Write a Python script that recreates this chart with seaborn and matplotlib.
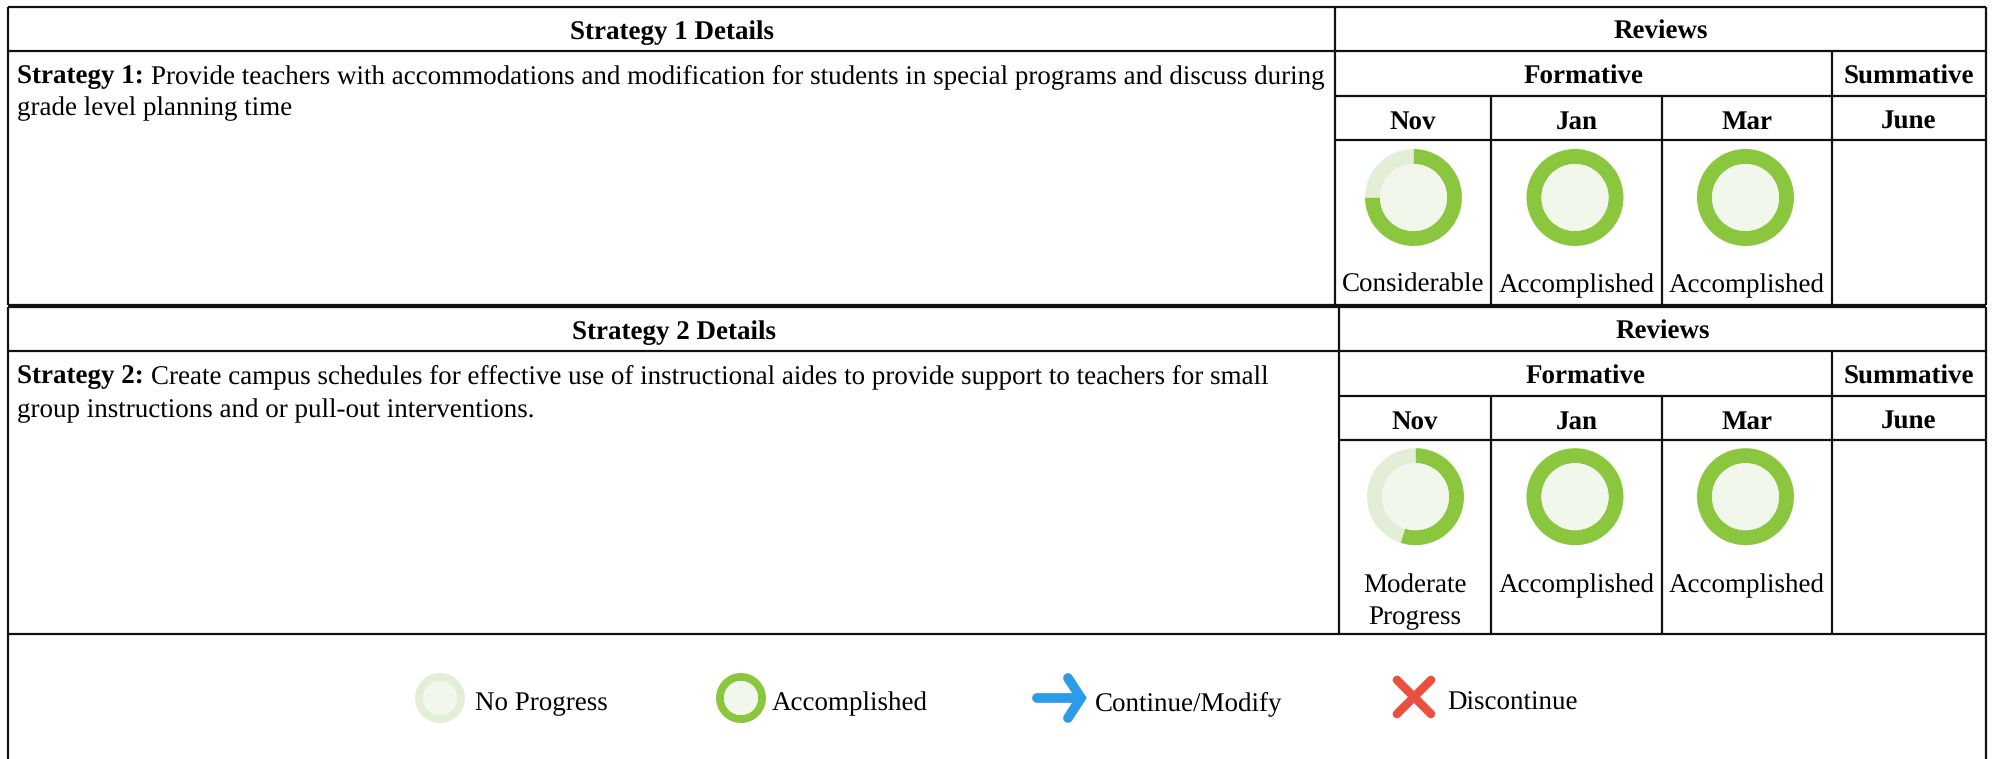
import matplotlib
matplotlib.use('Agg')
import matplotlib.pyplot as plt
import seaborn as sns

# data
months = ['Nov', 'Jan', 'Mar', 'June']
strategy1_progress = [0.75, 1.0, 1.0]
strategy2_progress = [0.55, 1.0, 1.0]
strategy1_status = ['Considerable', 'Accomplished', 'Accomplished']
strategy2_status = ['Moderate\nProgress', 'Accomplished', 'Accomplished']
strategy1_lines = ['Provide teachers with accommodations and modification for students in special programs and discuss during',
                   'grade level planning time']
strategy2_lines = ['Create campus schedules for effective use of instructional aides to provide support to teachers for small',
                   'group instructions and or pull-out interventions.']
legend_labels = ['No Progress', 'Accomplished', 'Continue/Modify', 'Discontinue']

GREEN = '#8AC73E'
PALE = '#E2EFD6'
INNER = '#F1F7EA'
BLUE = '#2D9CE8'
RED = '#EA5040'

sns.set_theme(style='white')
plt.rcParams['font.family'] = ['Liberation Serif', 'DejaVu Serif']
plt.rcParams['text.hinting'] = 'no_hinting'

W, H = 1995, 759
RIGHT = 1986
COLS = [1491, 1662, 1832]
fig = plt.figure(figsize=(W / 100, H / 100), dpi=100)
ax = fig.add_axes([0, 0, 1, 1])
ax.set_xlim(0, W)
ax.set_ylim(H, 0)
FS = 19.45
LW = 1.6


def donut(cx, cy, r, inner, frac):
    # y axis is inverted, so counterclock here comes out clockwise on screen
    ax.pie([frac, 1 - frac], colors=[GREEN, PALE], center=(cx, cy), radius=r,
           startangle=270, counterclock=True, frame=True,
           wedgeprops={'width': r - inner, 'linewidth': 0})
    ax.pie([1], colors=[INNER], center=(cx, cy), radius=inner, frame=True,
           wedgeprops={'linewidth': 0})


def hline(y, x0, x1, lw=LW):
    ax.plot([x0, x1], [y, y], color='#111111', lw=lw, solid_capstyle='butt')


def vline(x, y0, y1, lw=LW):
    ax.plot([x, x], [y0, y1], color='#111111', lw=lw, solid_capstyle='butt')


def bold(x, y, s):
    ax.text(x, y, s, ha='center', va='baseline', fontsize=FS, fontweight='bold', color='black')


def block(top, bottom, split, num, lines, progress, status, nov_x, circle_y, text_y, line2_y):
    r1, r2, r3 = top + 44, top + 89, top + 133
    for y in [top, r1]:
        hline(y, 8, RIGHT)
    hline(r2, split, RIGHT)
    hline(r3, split, RIGHT)
    hline(bottom, 8, RIGHT)
    vline(8, top, bottom)
    vline(RIGHT, top, bottom)
    vline(split, top, bottom)
    vline(COLS[0], r2, bottom)
    vline(COLS[1], r2, bottom)
    vline(COLS[2], r1, bottom)

    bold((8 + split) / 2, top + 32, f'Strategy {num} Details')
    bold((split + RIGHT) / 2, top + 32, 'Reviews')
    bold((split + COLS[2]) / 2, top + 77, 'Formative')
    bold((COLS[2] + RIGHT) / 2, top + 77, 'Summative')
    centers = [(split + COLS[0]) / 2, (COLS[0] + COLS[1]) / 2, (COLS[1] + COLS[2]) / 2, (COLS[2] + RIGHT) / 2]
    for c, m in zip(centers, months):
        bold(c, top + 122, m)

    # strategy text, bold lead then plain
    lead = ax.text(17, top + 76, f'Strategy {num}:', fontsize=FS, fontweight='bold',
                   va='baseline', color='black')
    box = lead.get_window_extent(fig.canvas.get_renderer())
    ax.text(box.x1 + 7, top + 76, lines[0], fontsize=FS, va='baseline', color='black')
    ax.text(17, line2_y, lines[1], fontsize=FS, va='baseline', color='black')

    xs = [nov_x, 1575, 1745.5]
    for x, p in zip(xs, progress):
        donut(x, circle_y, 48.5, 33.5, p)
    for c, s in zip(centers, status):
        ax.text(c, text_y, s, ha='center', va='baseline', fontsize=FS, color='black',
                linespacing=1.35)


block(7, 305, 1335, 1, strategy1_lines, strategy1_progress, strategy1_status, 1413.5, 197.5, 292, 115)
block(307, 634, 1339, 2, strategy2_lines, strategy2_progress, strategy2_status, 1415.5, 496.7, 592, 417)
# Moderate Progress sits lower because it has two lines
for t in ax.texts:
    if t.get_text().startswith('Moderate'):
        t.set_y(624)

# legend row
vline(8, 634, H)
vline(RIGHT, 634, H)
donut(440, 698, 25, 17, 0.0)
donut(741, 698, 25, 17, 1.0)
ax.plot([1037, 1081], [698, 698], color=BLUE, lw=7, solid_capstyle='round')
ax.plot([1068, 1081, 1068], [678, 698, 718], color=BLUE, lw=7,
        solid_capstyle='round', solid_joinstyle='miter')
ax.plot([1397, 1431], [680, 714], color=RED, lw=6.2, solid_capstyle='round')
ax.plot([1397, 1431], [714, 680], color=RED, lw=6.2, solid_capstyle='round')
for x, s in zip([475, 772, 1095, 1447], legend_labels):
    ax.text(x, 710, s, fontsize=FS, va='baseline', color='black')

ax.set_xlim(0, W)
ax.set_ylim(H, 0)
ax.set_aspect('auto')
ax.axis('off')
sns.despine(ax=ax, left=True, bottom=True)
fig.savefig('out.png', dpi=100, facecolor='white')
